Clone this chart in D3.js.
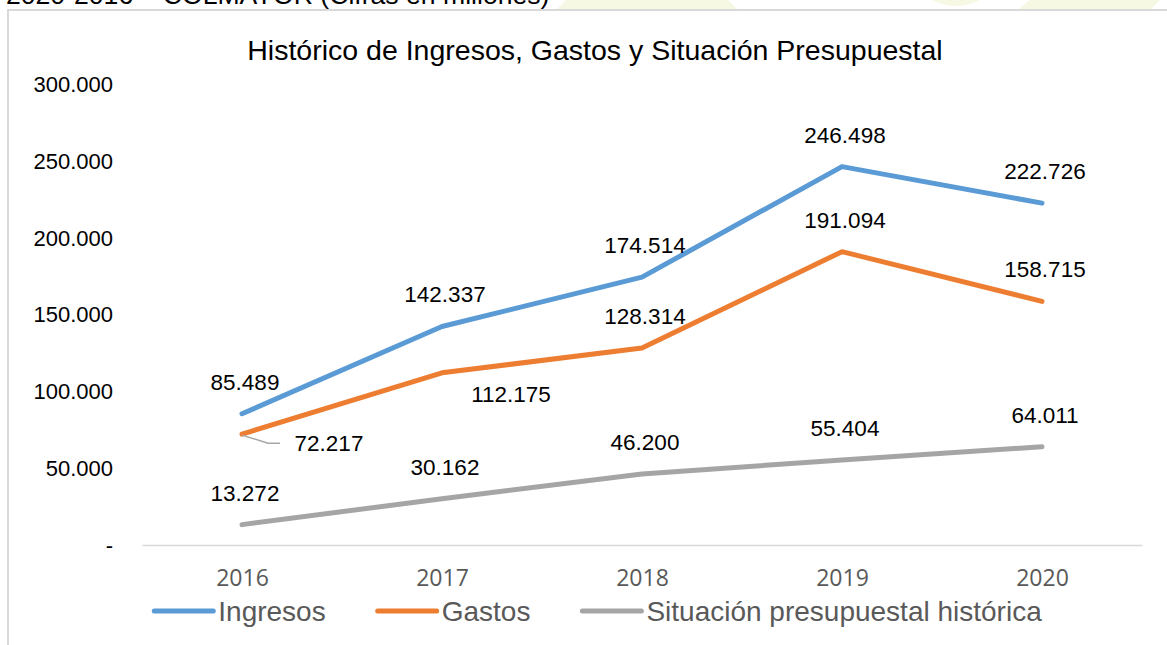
<!DOCTYPE html>
<html>
<head>
<meta charset="utf-8">
<script src="https://d3js.org/d3.v7.min.js"></script>
<style>
	body { margin:0; background:#fff; }
	svg { display:block; font-family:'Liberation Sans', Arial, sans-serif; }
</style>
</head>
<body>
<script>
//----
//Data
//----
var years = ['2016', '2017', '2018', '2019', '2020']
var ingresos = [85489, 142337, 174514, 246498, 222726]
var gastos = [72217, 112175, 128314, 191094, 158715]
var situacion = [13272, 30162, 46200, 55404, 64011]
var yTicks = [0, 50000, 100000, 150000, 200000, 250000, 300000]
var seriesNames = ['Ingresos', 'Gastos', 'Situación presupuestal histórica']
var seriesColors = ['#5b9bd5', '#ed7d31', '#a5a5a5']
var chartTitle = 'Histórico de Ingresos, Gastos y Situación Presupuestal'
var pageHeader = '2020-2016 – COLMAYOR (Cifras en millones)'

var _width = 1167,
	_height = 645

var _config = {
	'plotLeft' : 142,
	'plotRight' : 1142,
	'plotTop' : 84.5,
	'plotBottom' : 545,
	'lineWidth' : 5,
	'labelDx' : 3,
	'labelDy' : -32,
	'legendY' : 611
}

//Labels that Excel moved off the default spot [series, index, dx, dy]
var labelMoves = [
	[1, 0, 87, 9],
	[1, 1, 69, 21]
]

//Spanish number format, zero shown as a dash
var locale = d3.formatLocale({ decimal: ',', thousands: '.', grouping: [3], currency: ['$', ''] })
var fmtNum = locale.format(',d')
function _fmt(v){ return v === 0 ? '-' : fmtNum(v) }

var svg = d3.select('body').append('svg')
	.attr('width', _width)
	.attr('height', _height)

//Faint page watermark seen above the frame
var gMark = svg.append('g').attr('fill', '#f6f8e4')
gMark.append('path').attr('d', 'M556,10 L566,0 L728,0 L738,10 Z')
gMark.append('path').attr('d', 'M932,0 Q956,12 980,0 Z')
gMark.append('path').attr('d', 'M1018,10 L1030,0 L1160,0 L1150,10 Z')

//Cut-off header line of the page
svg.append('text')
	.attr('x', 6)
	.attr('y', 4)
	.attr('font-size', 26.6)
	.attr('fill', '#000')
	.text(pageHeader)

//Chart frame
svg.append('rect')
	.attr('x', 8)
	.attr('y', 10)
	.attr('width', _width + 20)
	.attr('height', _height + 20)
	.attr('fill', '#fff')
	.attr('stroke', '#d9d9d9')
	.attr('stroke-width', 2)

//Scales
var x = d3.scalePoint()
	.domain(years)
	.range([_config.plotLeft, _config.plotRight])
	.padding(0.5)

var y = d3.scaleLinear()
	.domain([0, 300000])
	.range([_config.plotBottom, _config.plotTop])

//Title
svg.append('text')
	.attr('x', 595)
	.attr('y', 50)
	.attr('dy', '0.35em')
	.attr('text-anchor', 'middle')
	.attr('font-size', 28.5)
	.attr('fill', '#000')
	.text(chartTitle)

//Y axis (labels only)
var gY = svg.append('g')
	.attr('transform', 'translate(' + _config.plotLeft + ',0)')
	.call(d3.axisLeft(y).tickValues(yTicks).tickFormat(_fmt).tickSize(0).tickPadding(29))
gY.select('.domain').remove()
gY.selectAll('text')
	.attr('font-family', "'Liberation Sans', Arial, sans-serif")
	.attr('font-size', 22)
	.attr('fill', '#000')

//X axis
var gX = svg.append('g')
	.attr('transform', 'translate(0,' + _config.plotBottom + ')')
	.call(d3.axisBottom(x).tickSize(0).tickPadding(25))
gX.select('.domain')
	.attr('stroke', '#d9d9d9')
	.attr('stroke-width', 1.5)
gX.selectAll('text')
	.attr('font-family', "'Open Sans', 'Liberation Sans', sans-serif")
	.attr('font-size', 23)
	.attr('fill', '#595959')

//Series
var allSeries = [ingresos, gastos, situacion]
var line = d3.line()
	.x(function(d, i){ return x(years[i]) })
	.y(function(d){ return y(d) })

var gLines = svg.append('g').attr('id', 'g-lines')
gLines.selectAll('path.serie')
	.data(allSeries)
	.enter().append('path')
	.classed('serie', true)
	.attr('d', line)
	.attr('fill', 'none')
	.attr('stroke', function(d, i){ return seriesColors[i] })
	.attr('stroke-width', _config.lineWidth)
	.attr('stroke-linecap', 'round')
	.attr('stroke-linejoin', 'round')

//Leader line for the moved 72.217 label
var p0x = x(years[0]),
	p0y = y(gastos[0])
svg.append('polyline')
	.attr('points', [
		[p0x, p0y + 1],
		[p0x + 26, p0y + 9],
		[p0x + 38, p0y + 9]
	].join(' '))
	.attr('fill', 'none')
	.attr('stroke', '#a6a6a6')
	.attr('stroke-width', 1.5)

//Data labels
var labelData = []
allSeries.forEach(function(s, si){
	s.forEach(function(v, i){
		var dx = _config.labelDx,
			dy = _config.labelDy
		labelMoves.forEach(function(m){
			if ( m[0] == si && m[1] == i ){ dx = m[2]; dy = m[3] }
		})
		labelData.push({ v: v, x: x(years[i]) + dx, y: y(v) + dy })
	})
})

svg.append('g').attr('id', 'g-labels')
	.selectAll('text')
	.data(labelData)
	.enter().append('text')
	.attr('x', function(d){ return d.x })
	.attr('y', function(d){ return d.y })
	.attr('dy', '0.35em')
	.attr('text-anchor', 'middle')
	.attr('font-size', 22.5)
	.attr('fill', '#000')
	.text(function(d){ return _fmt(d.v) })

//Legend
var gLegend = svg.append('g').attr('id', 'g-legend')
var items = gLegend.selectAll('g.item')
	.data(seriesNames)
	.enter().append('g')
	.classed('item', true)
items.append('line')
	.attr('x1', 0).attr('x2', 59)
	.attr('y1', 0).attr('y2', 0)
	.attr('stroke', function(d, i){ return seriesColors[i] })
	.attr('stroke-width', _config.lineWidth)
	.attr('stroke-linecap', 'round')
items.append('text')
	.attr('x', 64)
	.attr('dy', '0.35em')
	.attr('font-size', 28)
	.attr('fill', '#595959')
	.text(function(d){ return d })

//Lay the legend items out in a row, centered
var gap = 52
var widths = []
items.each(function(){ widths.push(64 + d3.select(this).select('text').node().getComputedTextLength()) })
var total = d3.sum(widths) + gap * (widths.length - 1)
var lx = 598 - total / 2
items.attr('transform', function(d, i){
	var t = 'translate(' + lx + ',' + _config.legendY + ')'
	lx += widths[i] + gap
	return t
})
</script>
</body>
</html>
